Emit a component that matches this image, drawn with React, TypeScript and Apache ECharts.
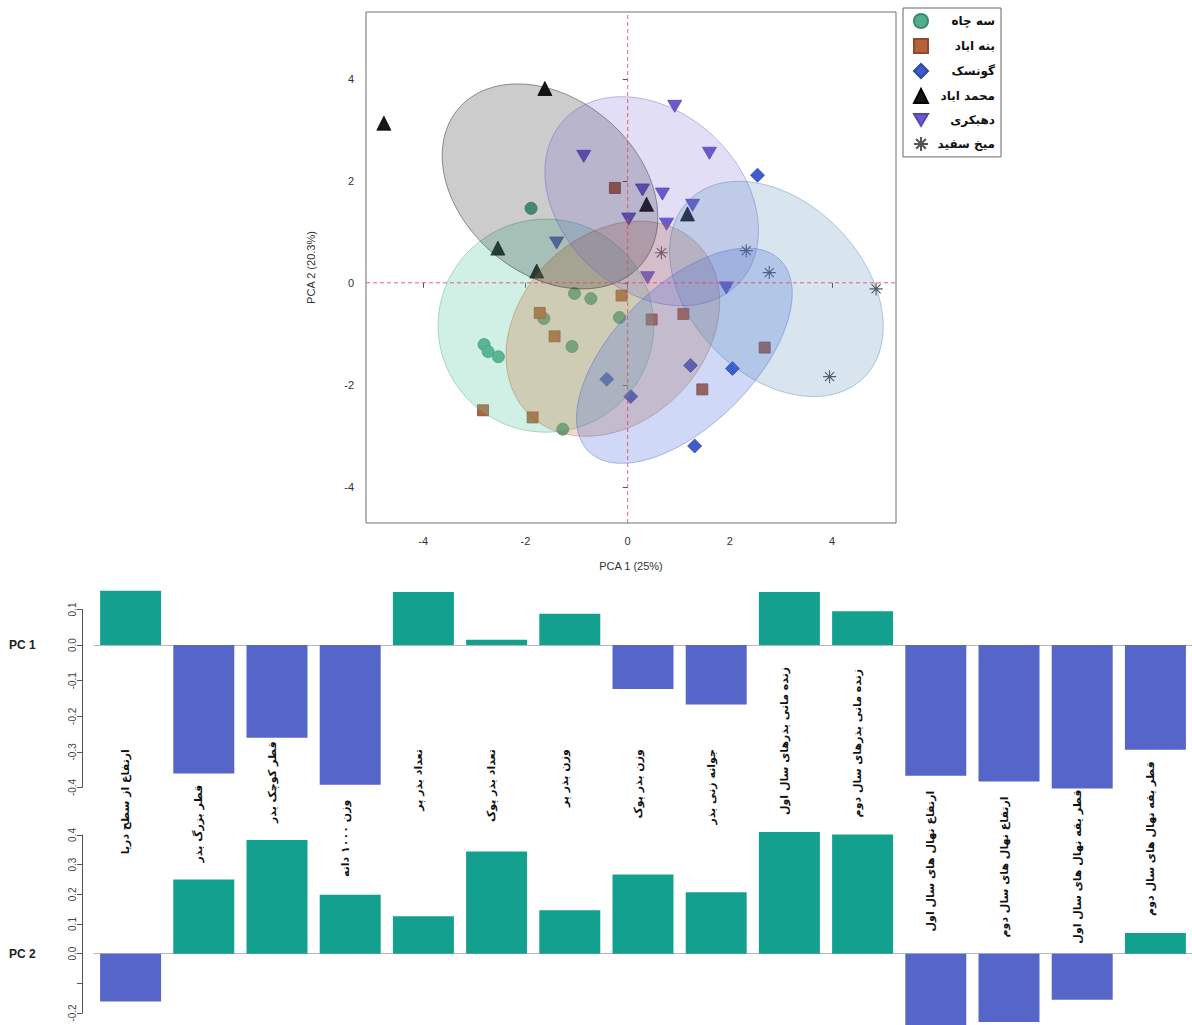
import React, { useEffect, useRef } from "react";
import * as echarts from "echarts";

// ---------- PCA scores (PCA 1, PCA 2) per population ----------
const groupNames = ["سه چاه", "بنه اباد", "گونسک", "محمد اباد", "دهبکری", "میخ سفید"];

const scoresSehChah = [
  [-1.89, 1.46], [-1.04, -0.21], [-0.72, -0.31], [-0.16, -0.68], [-1.09, -1.25],
  [-2.81, -1.21], [-2.73, -1.35], [-2.53, -1.45], [-1.64, -0.70], [-1.27, -2.87],
];
const scoresBaneAbad = [
  [-0.25, 1.86], [-0.12, -0.25], [-1.72, -0.59], [-1.43, -1.05], [0.47, -0.72],
  [1.09, -0.61], [2.68, -1.27], [1.46, -2.09], [-2.83, -2.50], [-1.86, -2.64],
];
const scoresGonesk = [
  [2.54, 2.11], [-0.41, -1.89], [0.06, -2.23], [1.23, -1.62], [2.05, -1.68], [1.31, -3.20],
];
const scoresMohammadAbad = [
  [-4.77, 3.13], [-1.62, 3.81], [-2.54, 0.68], [-1.78, 0.23], [0.37, 1.54], [1.17, 1.35],
];
const scoresDehbakri = [
  [0.92, 3.46], [1.60, 2.54], [-0.86, 2.48], [0.29, 1.82], [0.68, 1.74], [0.02, 1.25],
  [0.76, 1.15], [1.27, 1.52], [-1.39, 0.78], [0.39, 0.10], [1.93, -0.10],
];
const scoresMikhSefid = [
  [0.66, 0.59], [2.32, 0.63], [2.77, 0.20], [4.86, -0.12], [3.95, -1.84],
];

// Ellipses: [centre x, centre y, sd x, sd y, correlation]
const ellipseSehChah = [-1.6, -0.84, 2.11, 2.09, 0.0];
const ellipseBaneAbad = [-0.29, -0.9, 2.09, 2.11, 0.25];
const ellipseGonesk = [1.11, -1.43, 2.11, 2.11, 0.58];
const ellipseMohammadAbad = [-1.52, 1.89, 2.11, 2.01, -0.3];
const ellipseDehbakri = [0.47, 1.6, 2.09, 2.05, -0.28];
const ellipseMikhSefid = [2.91, -0.12, 2.09, 2.11, -0.35];

const scatterTicks = [-4, -2, 0, 2, 4];
const scatterXRange = [-5.12, 5.25];
const scatterYRange = [-4.71, 5.31];

// ---------- Loadings of the traits on PC 1 and PC 2 ----------
const traitLabels = [
  "ارتفاع از سطح دریا",
  "قطر بزرگ بذر",
  "قطر کوچک بذر",
  "وزن ۱۰۰۰ دانه",
  "تعداد بذر پر",
  "تعداد بذر پوک",
  "وزن بذر پر",
  "وزن بذر پوک",
  "جوانه زنی بذر",
  "زنده مانی بذرهای سال اول",
  "زنده مانی بذرهای سال دوم",
  "ارتفاع نهال های سال اول",
  "ارتفاع نهال های سال دوم",
  "قطر یقه نهال های سال اول",
  "قطر یقه نهال های سال دوم",
];
const pc1Loadings = [0.153, -0.361, -0.26, -0.392, 0.149, 0.015, 0.088, -0.123, -0.167, 0.149, 0.095, -0.367, -0.383, -0.403, -0.294];
const pc2Loadings = [-0.161, 0.25, 0.383, 0.199, 0.126, 0.344, 0.146, 0.267, 0.207, 0.41, 0.402, -0.245, -0.23, -0.155, 0.07];
const pc1Ticks = [0.1, 0.0, -0.1, -0.2, -0.3, -0.4];
const pc2Ticks = [0.4, 0.3, 0.2, 0.1, 0.0, -0.1, -0.2];

// ---------- styling ----------
const POS = "#14a08f";
const NEG = "#5565c8";
const ZERO_RED = "#e8465a";
const SANS = "'Liberation Sans', Arial, sans-serif";
const FA = "'DejaVu Sans', sans-serif";

const groupStyles = [
  { points: scoresSehChah, ellipse: ellipseSehChah, symbol: "circle", size: 12, fill: "#52ad8c", border: "#3b8c6e", ef: "rgba(102,205,170,0.30)", es: "rgba(60,150,120,0.45)" },
  { points: scoresBaneAbad, ellipse: ellipseBaneAbad, symbol: "rect", size: 11, fill: "#b5623a", border: "#8e4a2a", ef: "rgba(200,112,62,0.28)", es: "rgba(160,90,40,0.45)" },
  { points: scoresGonesk, ellipse: ellipseGonesk, symbol: "diamond", size: 14, fill: "#3f5bcc", border: "#2f47a8", ef: "rgba(65,105,225,0.25)", es: "rgba(50,80,190,0.45)" },
  { points: scoresMohammadAbad, ellipse: ellipseMohammadAbad, symbol: "triangle", size: 14, fill: "#161616", border: "#000000", ef: "rgba(0,0,0,0.20)", es: "rgba(40,40,40,0.6)" },
  { points: scoresDehbakri, ellipse: ellipseDehbakri, symbol: "path://M0,0 L20,0 L10,17 Z", size: [14, 12], fill: "#6a5acd", border: "#5446b0", ef: "rgba(106,90,205,0.20)", es: "rgba(90,75,190,0.45)" },
  { points: scoresMikhSefid, ellipse: ellipseMikhSefid, symbol: "path://M10,0 L10,20 M0,10 L20,10 M3,3 L17,17 M3,17 L17,3", size: 13, fill: "rgba(0,0,0,0)", border: "#555555", ef: "rgba(70,130,180,0.21)", es: "rgba(60,110,160,0.45)" },
];

function ellipsePoints(e: number[]) {
  const [cx, cy, sx, sy, rho] = e;
  const phi = Math.acos(rho);
  const pts: number[][] = [];
  for (let k = 0; k < 120; k++) {
    const t = (k / 120) * Math.PI * 2;
    pts.push([cx + sx * Math.cos(t), cy + sy * Math.cos(t - phi)]);
  }
  return pts;
}

const fmt = (v: number) => (Math.abs(v) < 1e-9 ? "0.0" : v.toFixed(1));

export default function App() {
  const ref = useRef<HTMLDivElement>(null);

  useEffect(() => {
    if (!ref.current) return;
    const chart = echarts.init(ref.current, undefined, { renderer: "svg" });

    const scatterSeries: any[] = groupStyles.map((g, i) => ({
      name: groupNames[i],
      type: "scatter",
      xAxisIndex: 0,
      yAxisIndex: 0,
      symbol: g.symbol,
      symbolSize: g.size,
      data: g.points,
      z: 2,
      itemStyle: { color: g.fill, borderColor: g.border, borderWidth: i === 5 ? 1.1 : 0.8, opacity: 1 },
      emphasis: { disabled: true },
    }));

    const ellipseSeries: any[] = groupStyles.map((g, i) => ({
      name: groupNames[i] + " ellipse",
      type: "custom",
      xAxisIndex: 0,
      yAxisIndex: 0,
      z: 3,
      silent: true,
      data: [[g.ellipse[0], g.ellipse[1]]],
      renderItem: (_p: any, api: any) => ({
        type: "polygon",
        shape: { points: ellipsePoints(g.ellipse).map((p) => api.coord(p)) },
        style: { fill: g.ef, stroke: g.es, lineWidth: 0.8 },
      }),
    }));

    // Reference lines through the origin, spanning the whole plot area
    const zeroLines: any = {
      name: "origin lines",
      type: "custom",
      xAxisIndex: 0,
      yAxisIndex: 0,
      z: 5,
      silent: true,
      data: [[0, 0]],
      renderItem: (_p: any, api: any) => {
        const a = api.coord([0, scatterYRange[0]]);
        const b = api.coord([0, scatterYRange[1]]);
        const c = api.coord([scatterXRange[0], 0]);
        const d = api.coord([scatterXRange[1], 0]);
        const style = { stroke: ZERO_RED, lineWidth: 1, lineDash: [4, 3], opacity: 0.85 };
        return {
          type: "group",
          children: [
            { type: "line", shape: { x1: a[0], y1: a[1], x2: b[0], y2: b[1] }, style },
            { type: "line", shape: { x1: c[0], y1: c[1], x2: d[0], y2: d[1] }, style },
          ],
        };
      },
    };

    const option: any = {
      animation: false,
      textStyle: { fontFamily: SANS },
      grid: [
        { left: 366, top: 12, width: 530, height: 511, show: true, borderColor: "#6f6f6f", borderWidth: 1, backgroundColor: "rgba(0,0,0,0)" },
        { left: 94, top: 609.5, width: 1098, height: 178 },
        { left: 94, top: 835, width: 1098, height: 178 },
      ],
      xAxis: [
        {
          type: "value", gridIndex: 0, min: scatterXRange[0], max: scatterXRange[1],
          name: "PCA 1 (25%)", nameLocation: "middle", nameGap: 37,
          nameTextStyle: { fontSize: 11, color: "#333", fontFamily: SANS },
          axisLine: { show: false },
          axisTick: { show: true, length: 5, lineStyle: { color: "#555" }, customValues: scatterTicks },
          axisLabel: { fontSize: 11, color: "#333", margin: 12, customValues: scatterTicks, formatter: (v: number) => String(v) },
          splitLine: { show: false },
        },
        {
          type: "category", gridIndex: 1, data: traitLabels,
          axisLabel: { show: false }, axisTick: { show: false },
          axisLine: { onZero: true, lineStyle: { color: "#b8b8b8", width: 1 } },
        },
        {
          type: "category", gridIndex: 2, data: traitLabels,
          axisLabel: { show: false }, axisTick: { show: false },
          axisLine: { onZero: true, lineStyle: { color: "#b8b8b8", width: 1 } },
        },
      ],
      yAxis: [
        {
          type: "value", gridIndex: 0, min: scatterYRange[0], max: scatterYRange[1],
          name: "PCA 2 (20.3%)", nameLocation: "middle", nameGap: 50,
          nameTextStyle: { fontSize: 11, color: "#333", fontFamily: SANS },
          axisLine: { show: false },
          axisTick: { show: true, length: 5, lineStyle: { color: "#555" }, customValues: scatterTicks },
          axisLabel: { fontSize: 11, color: "#333", margin: 12, customValues: scatterTicks, formatter: (v: number) => String(v) },
          splitLine: { show: false },
        },
        {
          type: "value", gridIndex: 1, min: -0.4, max: 0.1, offset: 12,
          axisLine: { show: true, lineStyle: { color: "#555" } },
          axisTick: { show: true, length: 5, lineStyle: { color: "#555" }, customValues: pc1Ticks },
          axisLabel: { rotate: 90, fontSize: 10, color: "#444", margin: 5, customValues: pc1Ticks, formatter: fmt },
          splitLine: { show: false },
        },
        {
          type: "value", gridIndex: 2, min: -0.2, max: 0.4, offset: 12,
          axisLine: { show: true, lineStyle: { color: "#555" } },
          axisTick: { show: true, length: 5, lineStyle: { color: "#555" }, customValues: pc2Ticks },
          axisLabel: {
            rotate: 90, fontSize: 10, color: "#444", margin: 5, customValues: pc2Ticks,
            formatter: (v: number) => (Math.abs(v + 0.1) < 1e-6 ? "" : fmt(v)),
          },
          splitLine: { show: false },
        },
      ],
      legend: {
        data: groupNames,
        orient: "vertical",
        left: 903,
        top: 8,
        padding: [5, 6, 5, 10],
        itemWidth: 14,
        itemHeight: 14,
        itemGap: 9,
        borderColor: "#666",
        borderWidth: 1,
        selectedMode: false,
        formatter: (name: string) => `{t|${name}}`,
        textStyle: {
          rich: { t: { width: 62, align: "right", fontFamily: FA, fontWeight: "bold", fontSize: 12, color: "#111" } },
        },
      },
      series: [
        ...scatterSeries,
        ...ellipseSeries,
        zeroLines,
        {
          name: "PC 1",
          type: "bar",
          xAxisIndex: 1,
          yAxisIndex: 1,
          data: pc1Loadings,
          barCategoryGap: "16.7%",
          clip: false,
          itemStyle: { color: (p: any) => (p.value >= 0 ? POS : NEG) },
          emphasis: { disabled: true },
        },
        {
          name: "PC 2",
          type: "bar",
          xAxisIndex: 2,
          yAxisIndex: 2,
          data: pc2Loadings,
          barCategoryGap: "16.7%",
          clip: false,
          itemStyle: { color: (p: any) => (p.value >= 0 ? POS : NEG) },
          emphasis: { disabled: true },
        },
      ],
    };

    chart.setOption(option);

    // Trait names, rotated, placed in the gap between the two bar rows
    const ctx = document.createElement("canvas").getContext("2d")!;
    const labelFont = `bold 11px ${FA}`;
    ctx.font = labelFont;
    const graphics: any[] = [];
    traitLabels.forEach((name, i) => {
      const len = ctx.measureText(name).width;
      const [x, zero1] = chart.convertToPixel({ gridIndex: 1 }, [i, 0]) as number[];
      const bottom1 = (chart.convertToPixel({ gridIndex: 1 }, [i, Math.min(pc1Loadings[i], 0)]) as number[])[1];
      const top2 = (chart.convertToPixel({ gridIndex: 2 }, [i, Math.max(pc2Loadings[i], 0)]) as number[])[1];
      const start = Math.max(zero1 + 104, bottom1 + 15);
      const limit = top2 - (pc2Loadings[i] > 0 ? 17 : 10);
      const fromTop = start + len <= limit;
      graphics.push({
        type: "text",
        x: x - 5,
        y: fromTop ? start : limit,
        rotation: Math.PI / 2,
        silent: true,
        style: {
          text: name,
          font: labelFont,
          fill: "#111",
          align: fromTop ? "right" : "left",
          textAlign: fromTop ? "right" : "left",
          verticalAlign: "middle",
          textVerticalAlign: "middle",
        },
      });
    });
    const z1 = (chart.convertToPixel({ gridIndex: 1 }, [0, 0]) as number[])[1];
    const z2 = (chart.convertToPixel({ gridIndex: 2 }, [0, 0]) as number[])[1];
    [["PC 1", z1], ["PC 2", z2]].forEach(([t, y]) => {
      graphics.push({
        type: "text",
        x: 9,
        y: y as number,
        silent: true,
        style: { text: t as string, font: `bold 12px ${SANS}`, fill: "#222", verticalAlign: "middle", textVerticalAlign: "middle" },
      });
    });
    chart.setOption({ graphic: graphics });

    return () => chart.dispose();
  }, []);

  return <div ref={ref} style={{ position: "absolute", left: 0, top: 0, width: 1192, height: 1025 }} />;
}
